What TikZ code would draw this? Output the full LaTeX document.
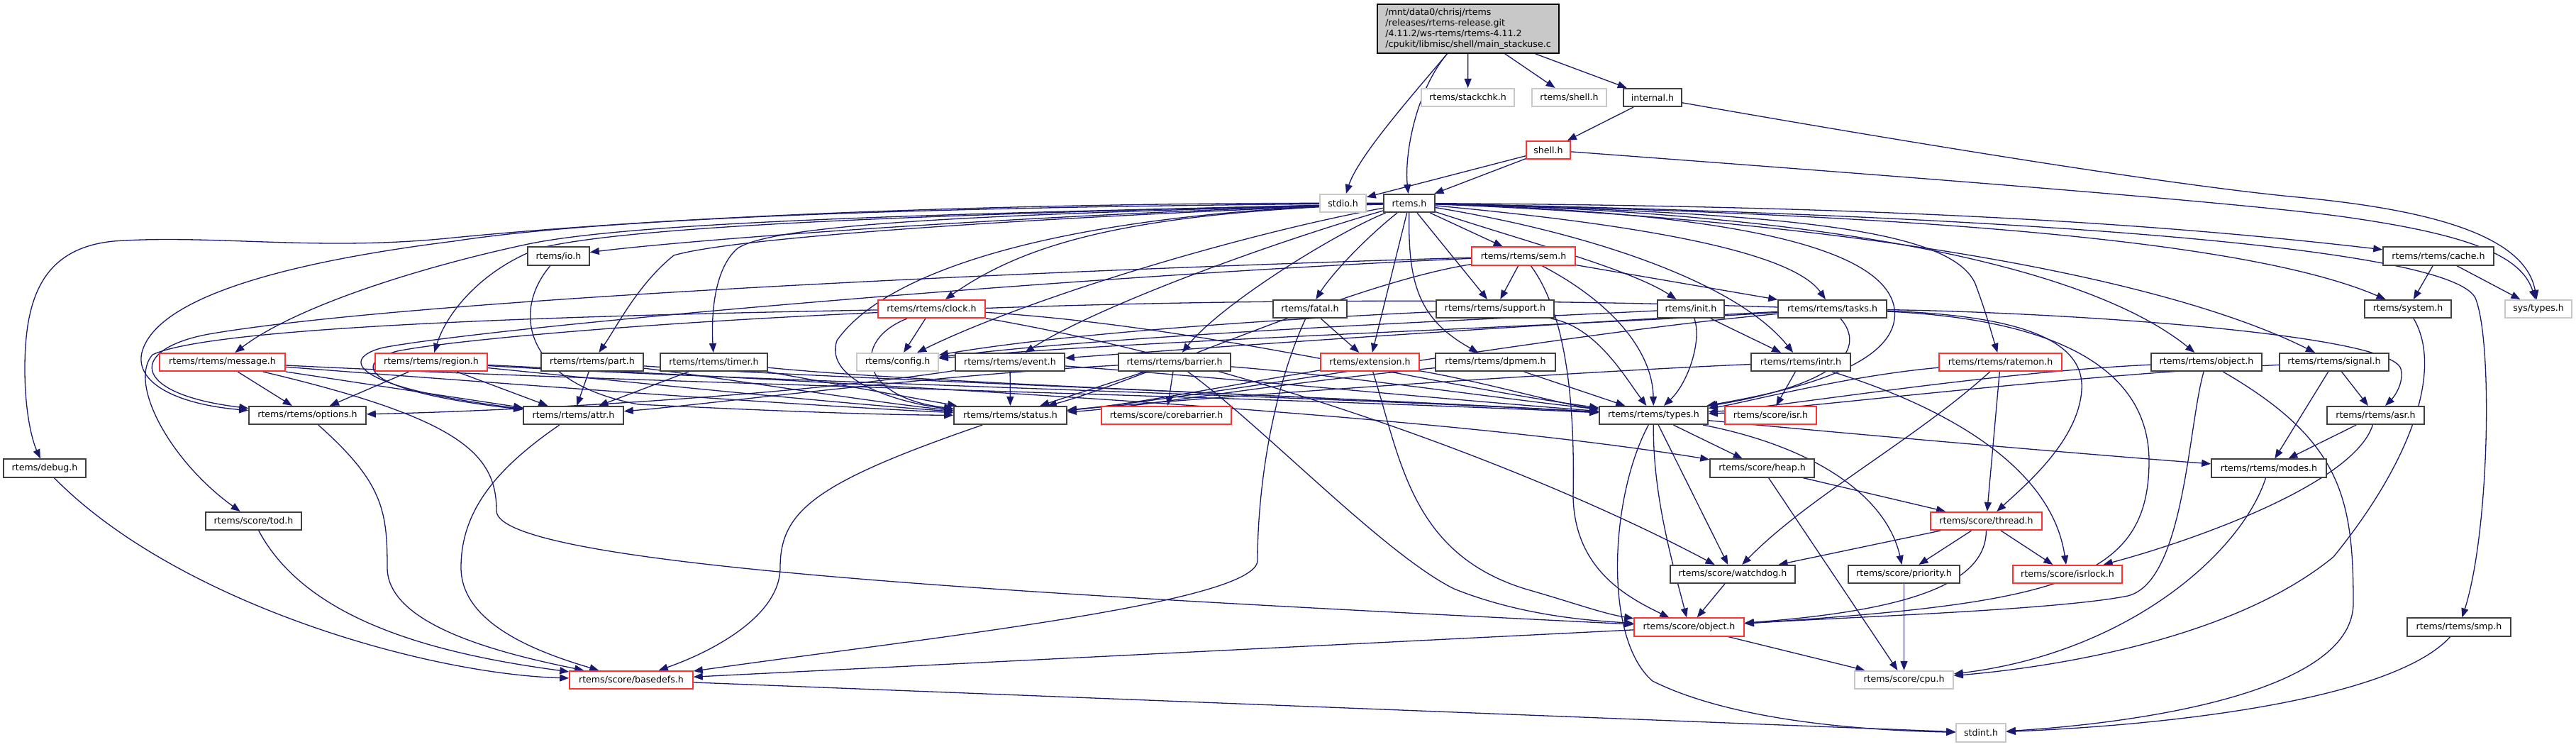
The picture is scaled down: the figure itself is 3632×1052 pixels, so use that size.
\documentclass[tikz,border=0pt]{standalone}
\usepackage{fontspec}
\setmainfont{DejaVu Sans}
\usetikzlibrary{arrows.meta}
\definecolor{edgeblue}{HTML}{191970}
\definecolor{bk}{HTML}{404040}
\definecolor{rd}{HTML}{FF3030}
\definecolor{gy}{HTML}{C8C8C8}
\pgfdeclarelayer{back}
\pgfdeclarelayer{edges}
\pgfsetlayers{back,edges,main}
\begin{document}
\begin{tikzpicture}[x=1pt,y=-1pt,
  nb/.style={draw=bk, line width=1.6pt, fill=white, inner sep=0pt, minimum height=25.5pt, font=\fontsize{12.6pt}{15pt}\selectfont},
  nr/.style={nb, draw=rd},
  ng/.style={nb, draw=gy},
  dep/.style={draw=edgeblue, line width=1.3pt, -{Triangle[length=13pt,width=10pt]}}]
\begin{pgfonlayer}{back}
\fill[white] (0,0) rectangle (3632,1052);
\end{pgfonlayer}
\useasboundingbox (0,0) rectangle (3632,1052);
% ---------- nodes ----------
\node[nb, fill=gy, draw=black, minimum width=256pt, minimum height=69pt, align=left] (main) at (2070,40.5) {/mnt/data0/chrisj/rtems\\/releases/rtems-release.git\\/4.11.2/ws-rtems/rtems-4.11.2\\/cpukit/libmisc/shell/main\_stackuse.c};
\node[ng, minimum width=131pt] (stackchk) at (2069.5,137.5) {rtems/stackchk.h};
\node[ng, minimum width=105pt] (rshell) at (2212.5,137.5) {rtems/shell.h};
\node[nb, minimum width=82pt] (internal) at (2330,137.5) {internal.h};
\node[nr, minimum width=62pt] (shellh) at (2183,211.5) {shell.h};
\node[ng, minimum width=65pt] (stdio) at (1893.5,286.5) {stdio.h};
\node[nb, minimum width=72pt] (rtems) at (1987,286.5) {rtems.h};
\node[nr, minimum width=146pt] (sem) at (2148,361) {rtems/rtems/sem.h};
\node[nb, minimum width=87pt] (io) at (787.5,361) {rtems/io.h};
\node[nb, minimum width=156pt] (cache) at (3438,361) {rtems/rtems/cache.h};
\node[nr, minimum width=151pt] (clock) at (1313.5,435.5) {rtems/rtems/clock.h};
\node[nb, minimum width=104pt] (fatal) at (1847,435.5) {rtems/fatal.h};
\node[nb, minimum width=166pt] (support) at (2108,435.5) {rtems/rtems/support.h};
\node[nb, minimum width=94pt] (init) at (2384,435.5) {rtems/init.h};
\node[nb, minimum width=153pt] (tasks) at (2583.5,435.5) {rtems/rtems/tasks.h};
\node[nb, minimum width=122pt] (system) at (3395,435.5) {rtems/system.h};
\node[ng, minimum width=94pt] (systypes) at (3579,435.5) {sys/types.h};
\node[nr, minimum width=177pt] (message) at (313.5,510.5) {rtems/rtems/message.h};
\node[nr, minimum width=158pt] (region) at (608,510.5) {rtems/rtems/region.h};
\node[nb, minimum width=144pt] (part) at (835,510.5) {rtems/rtems/part.h};
\node[nb, minimum width=151pt] (timer) at (1006.5,510.5) {rtems/rtems/timer.h};
\node[ng, minimum width=115pt] (config) at (1265.5,510.5) {rtems/config.h};
\node[nb, minimum width=154pt] (event) at (1424,510.5) {rtems/rtems/event.h};
\node[nb, minimum width=158pt] (barrier) at (1656,510.5) {rtems/rtems/barrier.h};
\node[nr, minimum width=139pt] (extension) at (1931.5,510.5) {rtems/extension.h};
\node[nb, minimum width=169pt] (dpmem) at (2108.5,510.5) {rtems/rtems/dpmem.h};
\node[nb, minimum width=140pt] (intr) at (2539,510.5) {rtems/rtems/intr.h};
\node[nr, minimum width=173pt] (ratemon) at (2820.5,510.5) {rtems/rtems/ratemon.h};
\node[nb, minimum width=156pt] (robject) at (3111,510.5) {rtems/rtems/object.h};
\node[nb, minimum width=154pt] (signal) at (3291,510.5) {rtems/rtems/signal.h};
\node[nb, minimum width=165pt] (options) at (433.5,585.5) {rtems/rtems/options.h};
\node[nb, minimum width=141pt] (attr) at (808.5,585.5) {rtems/rtems/attr.h};
\node[nb, minimum width=159pt] (status) at (1424.5,585.5) {rtems/rtems/status.h};
\node[nr, minimum width=183pt] (corebarrier) at (1644.5,585.5) {rtems/score/corebarrier.h};
\node[nb, minimum width=153pt] (types) at (2331.5,585.5) {rtems/rtems/types.h};
\node[nr, minimum width=129pt] (isr) at (2496.5,585.5) {rtems/score/isr.h};
\node[nb, minimum width=137pt] (asr) at (3349.5,585.5) {rtems/rtems/asr.h};
\node[nb, minimum width=116pt] (debug) at (63,660) {rtems/debug.h};
\node[nb, minimum width=147pt] (heap) at (2484.5,660) {rtems/score/heap.h};
\node[nb, minimum width=162pt] (modes) at (3199,660) {rtems/rtems/modes.h};
\node[nb, minimum width=135pt] (tod) at (357.5,734.5) {rtems/score/tod.h};
\node[nr, minimum width=157pt] (thread) at (2800.5,734.5) {rtems/score/thread.h};
\node[nb, minimum width=176pt] (watchdog) at (2443,809.5) {rtems/score/watchdog.h};
\node[nb, minimum width=157pt] (priority) at (2684.5,809.5) {rtems/score/priority.h};
\node[nr, minimum width=154pt] (isrlock) at (2915,809.5) {rtems/score/isrlock.h};
\node[nr, minimum width=155pt] (sobject) at (2381.5,884) {rtems/score/object.h};
\node[nb, minimum width=146pt] (smp) at (3467,884) {rtems/rtems/smp.h};
\node[nr, minimum width=174pt] (basedefs) at (890,958.5) {rtems/score/basedefs.h};
\node[ng, minimum width=139pt] (cpu) at (2684.5,958.5) {rtems/score/cpu.h};
\node[ng, minimum width=70pt] (stdint) at (2793,1033) {stdint.h};
% ---------- edges ----------
\begin{pgfonlayer}{edges}
% main
\draw[dep] (main) .. controls (1995,130) and (1915,220) .. (stdio);
\draw[dep] (main) .. controls (1995,130) and (1980,220) .. (rtems);
\draw[dep] (main) -- (stackchk);
\draw[dep] (main) -- (rshell);
\draw[dep] (main) -- (internal);
\draw[dep] (internal) -- (shellh);
\draw[dep] (internal) .. controls (2800,220) and (3100,265) .. (3240,278) .. controls (3420,295) and (3560,330) .. (systypes);
\draw[dep] (shellh) .. controls (2700,250) and (3150,285) .. (3300,305) .. controls (3480,330) and (3555,360) .. (systypes);
\draw[dep] (shellh) -- (stdio);
\draw[dep] (shellh) -- (rtems);
% rtems.h
\draw[dep] (rtems) .. controls (1500,285) and (1000,300) .. (640,335) .. controls (450,355) and (300,330) .. (160,340) .. controls (60,350) and (35,420) .. (35,520) .. controls (35,580) and (45,620) .. (debug);
\draw[dep] (rtems) .. controls (1500,290) and (900,300) .. (640,340) .. controls (400,370) and (220,420) .. (200,497) .. controls (190,540) and (250,570) .. (options);
\draw[dep] (rtems) .. controls (1400,300) and (900,310) .. (740,345) .. controls (600,375) and (420,430) .. (message);
\draw[dep] (rtems) .. controls (1400,300) and (900,315) .. (760,350) .. controls (680,380) and (630,440) .. (region);
\draw[dep] (rtems) .. controls (1500,300) and (1000,335) .. (io);
\draw[dep] (rtems) .. controls (1600,300) and (1050,330) .. (950,360) .. controls (900,400) and (870,460) .. (part);
\draw[dep] (rtems) .. controls (1500,300) and (1100,310) .. (1040,350) .. controls (1005,380) and (1003,450) .. (timer);
\draw[dep] (rtems) .. controls (1600,300) and (1450,340) .. (clock);
\draw[dep] (rtems) .. controls (1750,330) and (1450,420) .. (config);
\draw[dep] (rtems) .. controls (1800,340) and (1550,430) .. (event);
\draw[dep] (rtems) .. controls (1880,330) and (1720,430) .. (barrier);
\draw[dep] (rtems) .. controls (1500,300) and (1250,380) .. (1180,480) .. controls (1160,540) and (1280,570) .. (status);
\draw[dep] (rtems) .. controls (1920,340) and (1875,390) .. (fatal);
\draw[dep] (rtems) -- (extension);
\draw[dep] (rtems) .. controls (1985,400) and (2000,450) .. (dpmem);
\draw[dep] (rtems) -- (support);
\draw[dep] (rtems) -- (sem);
\draw[dep] (rtems) .. controls (2150,340) and (2300,380) .. (init);
\draw[dep] (rtems) .. controls (2250,330) and (2450,400) .. (intr);
\draw[dep] (rtems) .. controls (2350,320) and (2530,360) .. (tasks);
\draw[dep] (rtems) .. controls (2450,300) and (2650,350) .. (2670,430) .. controls (2690,520) and (2500,555) .. (types);
\draw[dep] (rtems) .. controls (2500,300) and (2750,320) .. (2785,400) .. controls (2800,440) and (2808,470) .. (ratemon);
\draw[dep] (rtems) .. controls (2600,300) and (2950,380) .. (robject);
\draw[dep] (rtems) .. controls (2600,310) and (3050,390) .. (signal);
\draw[dep] (rtems) .. controls (2600,290) and (3000,310) .. (cache);
\draw[dep] (rtems) .. controls (2600,300) and (3150,330) .. (system);
\draw[dep] (rtems) .. controls (2700,300) and (3450,340) .. (3490,420) .. controls (3515,480) and (3510,750) .. (smp);
% sem.h
\draw[dep] (sem) -- (support);
\draw[dep] (sem) -- (tasks);
\draw[dep] (sem) .. controls (2215,450) and (2220,600) .. (2218,700) .. controls (2220,800) and (2290,840) .. (sobject);
\draw[dep] (sem) .. controls (2280,430) and (2330,500) .. (types);
\draw[dep] (sem) .. controls (1500,380) and (600,420) .. (300,470) .. controls (180,490) and (180,555) .. (options);
\draw[dep] (sem) .. controls (1500,390) and (700,460) .. (540,490) .. controls (480,505) and (490,545) .. (attr);
\draw[dep] (sem) .. controls (1900,400) and (1600,540) .. (status);
% tasks.h
\draw[dep] (tasks) .. controls (2630,490) and (2600,540) .. (types);
\draw[dep] (tasks) .. controls (2200,460) and (1600,480) .. (config);
\draw[dep] (tasks) .. controls (2200,455) and (1700,490) .. (event);
\draw[dep] (tasks) .. controls (2200,470) and (1700,560) .. (status);
\draw[dep] (tasks) .. controls (1500,400) and (680,470) .. (560,495) .. controls (500,510) and (500,550) .. (attr);
\draw[dep] (tasks) .. controls (2900,440) and (3370,470) .. (3385,520) .. controls (3390,540) and (3375,560) .. (asr);
\draw[dep] (tasks) .. controls (2850,445) and (2940,480) .. (2935,550) .. controls (2930,620) and (2860,680) .. (thread);
\draw[dep] (tasks) .. controls (2900,450) and (3030,520) .. (3030,650) .. controls (3030,820) and (2900,850) .. (sobject);
% init, support, intr
\draw[dep] (init) .. controls (2400,480) and (2380,540) .. (types);
\draw[dep] (init) -- (intr);
\draw[dep] (init) .. controls (2100,450) and (1600,470) .. (config);
\draw[dep] (support) .. controls (1800,450) and (1500,470) .. (config);
\draw[dep] (support) .. controls (2250,460) and (2290,530) .. (types);
\draw[dep] (intr) -- (isr);
\draw[dep] (intr) .. controls (2700,560) and (2890,640) .. (isrlock);
\draw[dep] (intr) .. controls (2200,525) and (1700,560) .. (status);
% ratemon, robject, signal
\draw[dep] (ratemon) .. controls (2600,530) and (2450,570) .. (types);
\draw[dep] (ratemon) -- (thread);
\draw[dep] (ratemon) .. controls (2700,620) and (2550,700) .. (watchdog);
\draw[dep] (robject) .. controls (2800,525) and (2500,575) .. (types);
\draw[dep] (robject) .. controls (3085,600) and (3080,820) .. (3000,840) .. controls (2900,860) and (2600,870) .. (sobject);
\draw[dep] (robject) .. controls (3300,620) and (3318,700) .. (3318,850) .. controls (3318,980) and (3000,1020) .. (stdint);
\draw[dep] (signal) -- (asr);
\draw[dep] (signal) -- (modes);
\draw[dep] (signal) .. controls (2900,530) and (2500,580) .. (types);
% cache, system, asr, modes, smp
\draw[dep] (cache) -- (system);
\draw[dep] (cache) -- (systypes);
\draw[dep] (system) .. controls (3445,520) and (3400,650) .. (3290,785) .. controls (3150,900) and (2900,940) .. (cpu);
\draw[dep] (asr) -- (modes);
\draw[dep] (asr) .. controls (3320,680) and (3100,760) .. (isrlock);
\draw[dep] (modes) .. controls (3160,780) and (3000,920) .. (cpu);
\draw[dep] (smp) .. controls (3380,980) and (3100,1020) .. (stdint);
% types.h
\draw[dep] (types) -- (heap);
\draw[dep] (types) -- (watchdog);
\draw[dep] (types) .. controls (2330,700) and (2360,800) .. (sobject);
\draw[dep] (types) .. controls (2560,630) and (2660,700) .. (priority);
\draw[dep] (types) .. controls (2700,620) and (3000,645) .. (modes);
\draw[dep] (types) .. controls (2270,700) and (2260,900) .. (2330,960) .. controls (2450,1020) and (2650,1030) .. (stdint);
% score layer
\draw[dep] (heap) -- (cpu);
\draw[dep] (heap) -- (thread);
\draw[dep] (thread) -- (watchdog);
\draw[dep] (thread) -- (priority);
\draw[dep] (thread) -- (isrlock);
\draw[dep] (thread) .. controls (2800,820) and (2700,860) .. (sobject);
\draw[dep] (watchdog) -- (sobject);
\draw[dep] (priority) -- (cpu);
\draw[dep] (sobject) -- (cpu);
\draw[dep] (sobject) -- (basedefs);
\draw[dep] (basedefs) -- (stdint);
% into basedefs
\draw[dep] (status) .. controls (1150,680) and (1100,720) .. (1100,800) .. controls (1100,870) and (1000,920) .. (basedefs);
\draw[dep] (options) .. controls (540,680) and (546,720) .. (546,800) .. controls (546,880) and (700,920) .. (basedefs);
\draw[dep] (attr) .. controls (700,660) and (650,720) .. (650,800) .. controls (650,880) and (760,920) .. (basedefs);
\draw[dep] (tod) .. controls (430,870) and (600,920) .. (basedefs);
\draw[dep] (debug) .. controls (250,850) and (600,950) .. (basedefs);
\draw[dep] (fatal) .. controls (1790,560) and (1773,700) .. (1773,790) .. controls (1773,850) and (1300,900) .. (basedefs);
\draw[dep] (fatal) -- (extension);
% message, region, part, timer
\draw[dep] (message) -- (options);
\draw[dep] (message) -- (attr);
\draw[dep] (message) .. controls (700,540) and (1100,570) .. (status);
\draw[dep] (message) .. controls (900,540) and (1800,560) .. (types);
\draw[dep] (message) .. controls (650,590) and (700,640) .. (700,720) .. controls (700,800) and (1500,840) .. (sobject);
\draw[dep] (region) -- (options);
\draw[dep] (region) -- (attr);
\draw[dep] (region) .. controls (900,540) and (1200,570) .. (status);
\draw[dep] (region) .. controls (1000,535) and (1900,560) .. (types);
\draw[dep] (region) .. controls (1200,540) and (2000,580) .. (heap);
\draw[dep] (part) -- (attr);
\draw[dep] (part) .. controls (1000,530) and (1250,570) .. (status);
\draw[dep] (part) .. controls (1100,530) and (1900,560) .. (types);
\draw[dep] (timer) -- (attr);
\draw[dep] (timer) -- (status);
\draw[dep] (timer) .. controls (1300,540) and (1900,560) .. (types);
% clock, event, barrier, extension, dpmem, io
\draw[dep] (clock) -- (config);
\draw[dep] (clock) .. controls (1200,480) and (1210,560) .. (status);
\draw[dep] (clock) .. controls (800,445) and (300,460) .. (215,500) .. controls (180,540) and (240,650) .. (tod);
\draw[dep] (clock) .. controls (1700,460) and (2000,540) .. (types);
\draw[dep] (clock) .. controls (1800,520) and (2200,680) .. (watchdog);
\draw[dep] (event) -- (status);
\draw[dep] (event) .. controls (1700,530) and (2000,560) .. (types);
\draw[dep] (event) .. controls (1100,560) and (700,580) .. (options);
\draw[dep] (barrier) -- (corebarrier);
\draw[dep] (barrier) -- (status);
\draw[dep] (barrier) .. controls (1900,530) and (2100,560) .. (types);
\draw[dep] (barrier) .. controls (1300,530) and (1000,570) .. (attr);
\draw[dep] (barrier) .. controls (1780,600) and (1950,780) .. (2050,830) .. controls (2150,870) and (2250,875) .. (sobject);
\draw[dep] (extension) .. controls (1750,540) and (1600,570) .. (status);
\draw[dep] (extension) .. controls (2100,540) and (2200,570) .. (types);
\draw[dep] (extension) .. controls (1975,650) and (1990,780) .. (2150,830) .. controls (2220,850) and (2260,865) .. (sobject);
\draw[dep] (dpmem) .. controls (1800,540) and (1600,575) .. (status);
\draw[dep] (dpmem) -- (types);
\draw[dep] (io) .. controls (720,440) and (740,540) .. (900,570) .. controls (1100,580) and (1250,585) .. (status);
\end{pgfonlayer}
\end{tikzpicture}
\end{document}
